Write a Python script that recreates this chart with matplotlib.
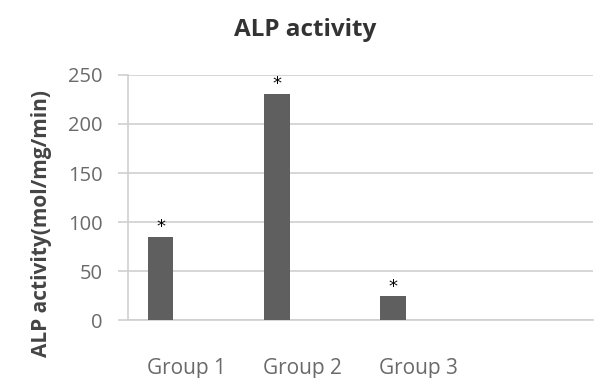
import numpy as np
import matplotlib.pyplot as plt

plt.rcParams['font.family'] = ['Open Sans', 'DejaVu Sans']

groups = ["Group 1", "Group 2", "Group 3", ""]
alp = [84.5, 231, 24, np.nan]
series2 = [0, 0, 0, 0]
series3 = [0, 0, 0, 0]
marks = ["*", "*", "*", ""]

x = np.arange(len(groups))
w = 0.22

fig = plt.figure(figsize=(6.02, 3.78), dpi=100)
ax = fig.add_axes([0.2126, 0.1534, 0.7724, 0.6482])

bars = ax.bar(x - w, alp, w, color="#5f5f5f", zorder=3)
ax.bar(x, series2, w, color="#8a8a8a", zorder=3)
ax.bar(x + w, series3, w, color="#b0b0b0", zorder=3)

for b, v, m in zip(bars, alp, marks):
    if m and not np.isnan(v):
        ax.text(b.get_x() + b.get_width() / 2, v + 1, m, ha="center", va="bottom",
                fontsize=13, color="black", family="DejaVu Sans")

ax.set_xlim(-0.5, len(groups) - 0.5)
ax.set_ylim(0, 250)
ax.set_yticks(np.arange(0, 251, 50))
ax.set_xticks(x)
ax.set_xticklabels(groups)

ax.grid(axis="y", color="#cfcfcf", linewidth=1.2, zorder=0)
for s in ["top", "right"]:
    ax.spines[s].set_visible(False)
ax.spines["left"].set_color("#cfcfcf")
ax.spines["bottom"].set_color("#cfcfcf")
ax.spines["left"].set_linewidth(1.2)
ax.spines["bottom"].set_linewidth(1.2)

ax.tick_params(axis="y", length=7, color="#cfcfcf", width=1.2, pad=11,
               labelsize=14.5, labelcolor="#6a6a6a")
ax.tick_params(axis="x", length=0, pad=27, labelsize=15, labelcolor="#6a6a6a")

ax.set_ylabel("ALP activity(mol/mg/min)", fontsize=15, fontweight="bold",
              color="#444444", va="center")
ax.yaxis.set_label_coords(-0.185, 0.395)
fig.text(0.507, 0.92, "ALP activity", ha="center", va="center", fontsize=17.5,
         fontweight="bold", color="#333333")

fig.savefig("out.png", dpi=100, facecolor="white")
